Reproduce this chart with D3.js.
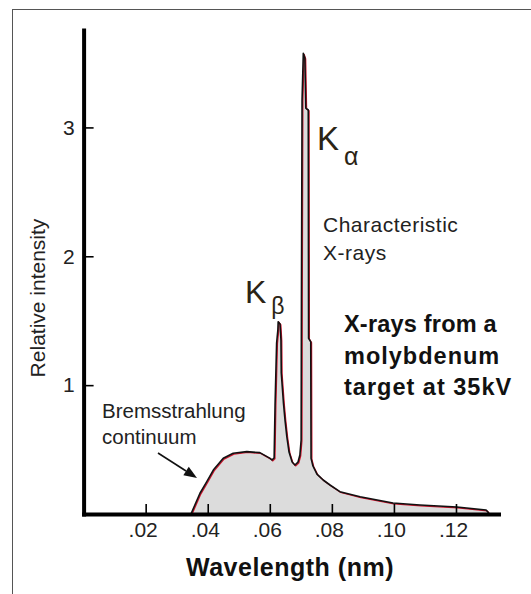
<!DOCTYPE html>
<html>
<head>
<meta charset="utf-8">
<script src="https://cdn.jsdelivr.net/npm/d3@7"></script>
<style>
body { margin: 0; background: #fff; }
svg { display: block; font-family: "Liberation Sans", Arial, sans-serif; }
</style>
</head>
<body>
<svg width="531" height="594"></svg>
<script>
// spectrum: wavelength (nm) and relative intensity
var wavelength = [0.0346, 0.0375, 0.0397, 0.0418, 0.0450, 0.0482, 0.0526, 0.0568, 0.0601, 0.0607,
                  0.0614, 0.0617, 0.0622, 0.0626, 0.0627, 0.0633, 0.0636, 0.0637, 0.0644, 0.0649,
                  0.0655, 0.0662, 0.0672, 0.0681, 0.0691, 0.0697, 0.0701, 0.0702, 0.0704, 0.0708,
                  0.0713, 0.0716, 0.0724, 0.0725, 0.0732, 0.0733, 0.0739, 0.0752, 0.0772, 0.0794,
                  0.0826, 0.0891, 0.0997, 0.1084, 0.1203, 0.1297, 0.1303, 0.1306];
var intensity  = [0, 0.161, 0.251, 0.341, 0.432, 0.471, 0.484, 0.476, 0.432, 0.419,
                  0.435, 0.846, 1.327, 1.428, 1.492, 1.475, 1.350, 1.094, 0.861, 0.730,
                  0.598, 0.481, 0.403, 0.380, 0.403, 0.458, 0.574, 1.661, 3.213, 3.575,
                  3.539, 3.149, 3.135, 1.364, 1.335, 0.432, 0.373, 0.310, 0.264, 0.225,
                  0.173, 0.134, 0.085, 0.070, 0.054, 0.031, 0.016, 0];

var xTicks = [0.02, 0.04, 0.06, 0.08, 0.10, 0.12];
var yTicks = [1, 2, 3];
var titleLines = ["X-rays from a", "molybdenum", "target at 35kV"];

var svg = d3.select("svg");

var points = wavelength.map(function(w, i) { return {w: w, v: intensity[i]}; });

// scales
var x = d3.scaleLinear().domain([0, 0.1337]).range([83.6, 498.5]);
var y = d3.scaleLinear().domain([0, 3.756]).range([514, 30]);

// frame
svg.append("rect")
    .attr("x", 12.5).attr("y", 9.5)
    .attr("width", 600).attr("height", 600)
    .attr("fill", "none")
    .attr("stroke", "#555")
    .attr("stroke-width", 1);

// filled spectrum
var area = d3.area()
    .x(function(d) { return x(d.w); })
    .y0(y(0))
    .y1(function(d) { return y(d.v); });

var line = d3.line()
    .x(function(d) { return x(d.w); })
    .y(function(d) { return y(d.v); });

svg.append("path")
    .datum(points)
    .attr("d", area)
    .attr("fill", "#dcdcdc");

// red under-stroke, slightly offset like the original drawing
svg.append("path")
    .datum(points)
    .attr("d", line)
    .attr("transform", "translate(0.8,0.8)")
    .attr("fill", "none")
    .attr("stroke", "#d0102a")
    .attr("stroke-width", 1.3);

svg.append("path")
    .datum(points)
    .attr("d", line)
    .attr("fill", "none")
    .attr("stroke", "#111")
    .attr("stroke-width", 1.6)
    .attr("stroke-linejoin", "round");

// axes
var xAxis = svg.append("g")
    .attr("transform", "translate(0," + y(0) + ")")
    .call(d3.axisBottom(x)
        .tickValues(xTicks)
        .tickSize(-10)
        .tickSizeOuter(0)
        .tickPadding(8)
        .tickFormat(function(d) { return d.toFixed(2).replace(/^0/, ""); }));

var yAxis = svg.append("g")
    .attr("transform", "translate(" + x(0) + ",0)")
    .call(d3.axisLeft(y)
        .tickValues(yTicks)
        .tickSize(-10)
        .tickSizeOuter(0)
        .tickPadding(9)
        .tickFormat(d3.format("d")));

[xAxis, yAxis].forEach(function(g) {
  g.select(".domain")
      .attr("stroke", "#000")
      .attr("stroke-width", 4)
      .attr("stroke-linecap", "square");
  g.selectAll(".tick line")
      .attr("stroke", "#000")
      .attr("stroke-width", 1.6);
  g.selectAll(".tick text")
      .attr("fill", "#222")
      .attr("font-family", "Liberation Sans, Arial, sans-serif")
      .attr("font-size", 21);
});
xAxis.selectAll(".tick text").attr("dx", -3);

// axis titles
svg.append("text")
    .attr("transform", "translate(45,298) rotate(-90)")
    .attr("text-anchor", "middle")
    .attr("font-size", 21)
    .attr("fill", "#222")
    .text("Relative intensity");

svg.append("text")
    .attr("x", 290).attr("y", 576)
    .attr("text-anchor", "middle")
    .attr("font-size", 25)
    .attr("font-weight", "bold")
    .attr("letter-spacing", 0.5)
    .attr("fill", "#111")
    .text("Wavelength (nm)");

// peak labels
var kColor = "#2b2415";
var ka = svg.append("text")
    .attr("x", 317).attr("y", 150)
    .attr("fill", kColor)
    .attr("font-size", 33);
ka.append("tspan").text("K");
ka.append("tspan").attr("dy", 15).attr("dx", 5).attr("font-size", 25).text("\u03b1");

var kb = svg.append("text")
    .attr("x", 245).attr("y", 303)
    .attr("fill", kColor)
    .attr("font-size", 32);
kb.append("tspan").text("K");
kb.append("tspan").attr("dy", 11).attr("dx", 5).attr("font-size", 23).text("\u03b2");

// annotations
svg.append("text")
    .attr("x", 323).attr("y", 232)
    .attr("font-size", 21)
    .attr("letter-spacing", 0.5)
    .attr("fill", "#222")
    .selectAll("tspan")
    .data(["Characteristic", "X-rays"])
    .enter().append("tspan")
    .attr("x", 323)
    .attr("dy", function(d, i) { return i ? 28 : 0; })
    .text(function(d) { return d; });

svg.append("text")
    .attr("x", 102).attr("y", 418)
    .attr("font-size", 20.5)
    .attr("fill", "#222")
    .selectAll("tspan")
    .data(["Bremsstrahlung", "continuum"])
    .enter().append("tspan")
    .attr("x", 102)
    .attr("dy", function(d, i) { return i ? 26 : 0; })
    .text(function(d) { return d; });

svg.append("text")
    .attr("x", 344).attr("y", 332)
    .attr("font-size", 23.5)
    .attr("font-weight", "bold")
    .attr("fill", "#111")
    .selectAll("tspan")
    .data(titleLines)
    .enter().append("tspan")
    .attr("x", 344)
    .attr("dy", function(d, i) { return i ? 31.5 : 0; })
    .attr("letter-spacing", function(d, i) { return i ? 1 : 0.2; })
    .text(function(d) { return d; });

// arrow pointing at the continuum
var a0 = [158, 453], a1 = [197, 478];
var ang = Math.atan2(a1[1] - a0[1], a1[0] - a0[0]);
var headLen = 13, headW = 5;
var base = [a1[0] - headLen * Math.cos(ang), a1[1] - headLen * Math.sin(ang)];
svg.append("line")
    .attr("x1", a0[0]).attr("y1", a0[1])
    .attr("x2", base[0]).attr("y2", base[1])
    .attr("stroke", "#111")
    .attr("stroke-width", 1.6);
svg.append("path")
    .attr("d", "M" + a1 +
        "L" + [base[0] + headW * Math.sin(ang), base[1] - headW * Math.cos(ang)] +
        "L" + [base[0] - headW * Math.sin(ang), base[1] + headW * Math.cos(ang)] + "Z")
    .attr("fill", "#111");
</script>
</body>
</html>
